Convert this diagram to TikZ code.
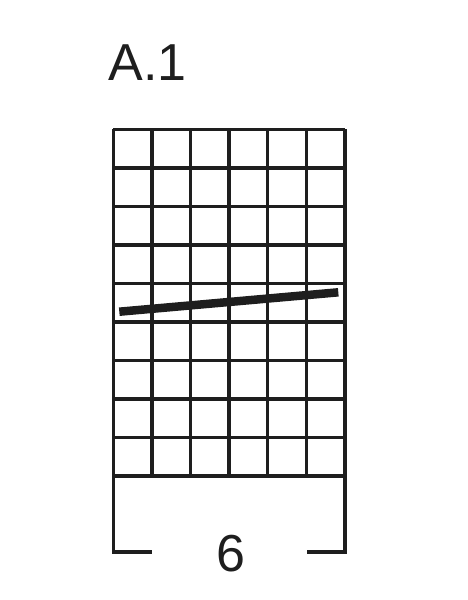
\documentclass[tikz,border=0pt]{standalone}
\usepackage{fontspec}
\setmainfont{Liberation Sans}
\definecolor{ink}{HTML}{1E1E1E}
\tikzstyle{every node}=[inner sep=0pt,text=ink]
\tikzstyle{label}=[font=\fontsize{52}{60}\selectfont]
\tikzstyle{gridline}=[draw=ink,line width=3.5pt]
\tikzstyle{strand}=[draw=ink,line width=8.5pt]

\begin{document}
\begin{tikzpicture}[x=1pt,y=-1pt]
	\useasboundingbox (0,0) rectangle (468,600);
	
	% chart
	\foreach \i in {0,...,6}
		\draw[gridline] (113.3+38.6*\i,129.3) -- (113.3+38.6*\i,476);
	\foreach \j in {0,...,9}
		\draw[gridline] (113.3,129.3+38.52*\j) -- (345,129.3+38.52*\j);
	
	\coordinate (s1) at (119.3,311.7);
	\coordinate (s2) at (338.3,292.3);
	\draw[strand] (s1) -- (s2);
	
	% bracket
	\coordinate (bl) at (113.3,476);
	\coordinate (br) at (345,476);
	\coordinate (bl2) at (151.7,552);
	\coordinate (br2) at (306.7,552);
	\draw[gridline] (bl) |- (bl2);
	\draw[gridline] (br) |- (br2);
	
	\node[label,anchor=base west] (title) at (108.5,80) {A.1};
	\node[label,anchor=base] (count) at (230.5,571) {6};
\end{tikzpicture}
\end{document}
